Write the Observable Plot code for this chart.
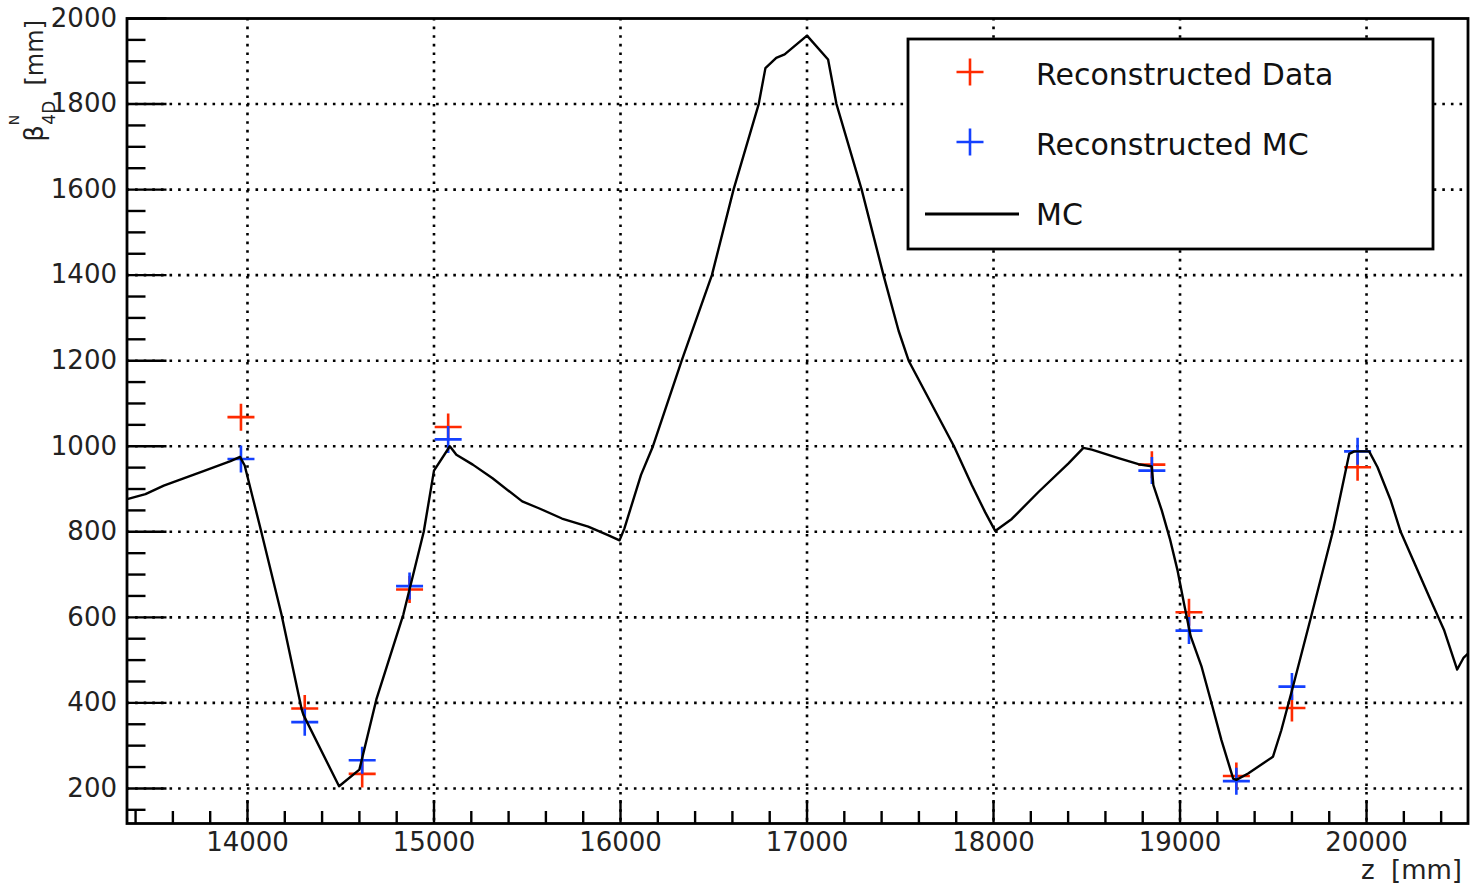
<!DOCTYPE html>
<html><head><meta charset="utf-8">
<script src="https://cdn.jsdelivr.net/npm/d3@7"></script>
<script src="https://cdn.jsdelivr.net/npm/@observablehq/plot@0.6"></script>
<style>html,body{margin:0;padding:0;background:#fff;} #chart{width:1475px;height:889px;}</style>
</head><body><div id="chart"></div>
<script>
// MC beta function (solid black line)
const mcZ = [13360, 13453, 13551, 13764, 13909, 13960, 13985, 14073, 14182, 14291, 14300, 14491, 14600, 14691, 14836, 14945, 15000, 15085, 15120, 15208, 15314, 15473, 15562, 15686, 15827, 15933, 15995, 16021, 16110, 16174, 16328, 16490, 16606, 16741, 16777, 16835, 16880, 17000, 17113, 17158, 17293, 17410, 17491, 17545, 17788, 17884, 17955, 18009, 18098, 18241, 18402, 18482, 18527, 18670, 18777, 18848, 18857, 18902, 18946, 18986, 19021, 19057, 19116, 19169, 19222, 19285, 19302, 19365, 19498, 19543, 19605, 19703, 19819, 19907, 19934, 20014, 20059, 20130, 20183, 20343, 20415, 20486, 20521, 20544];
const mcBeta = [877, 888, 908, 942, 965, 975, 955, 802, 607, 384, 372, 205, 244, 408, 607, 800, 943, 1000, 980, 957, 925, 871, 855, 831, 812, 792, 780, 808, 933, 1000, 1200, 1400, 1600, 1800, 1884, 1908, 1916, 1960, 1904, 1800, 1600, 1400, 1270, 1200, 1000, 909, 846, 802, 830, 893, 960, 996, 992, 972, 958, 953, 909, 850, 783, 711, 633, 556, 484, 399, 313, 223, 220, 235, 274, 336, 437, 602, 800, 982, 988, 988, 951, 873, 800, 641, 571, 478, 506, 515];

// Reconstructed points (shared z positions)
const recoZ = [13965, 14307, 14615, 14869, 15076, 18849, 19048, 19302, 19600, 19952];
const dataBeta = [1068, 387, 234, 665, 1045, 957, 612, 229, 388, 951];
const recoMcBeta = [970, 355, 266, 673, 1016, 943, 569, 217, 438, 988];

// Axis ticks
const xTicks = [14000, 15000, 16000, 17000, 18000, 19000, 20000];
const yTicks = [200, 400, 600, 800, 1000, 1200, 1400, 1600, 1800, 2000];
const xMinor = d3.range(13400, 20600, 200).filter(v => v % 1000 !== 0);
const yMinor = d3.range(150, 2000, 50).filter(v => v % 200 !== 0);
const yGrid = [200, 400, 600, 800, 1000, 1200, 1400, 1600, 1800];

const legendLabels = ["Reconstructed Data", "Reconstructed MC", "MC"];
const xLabel = "z\u00a0\u00a0[mm]";
const seriesColors = {data: "#ff2a00", mc: "#1440ff", line: "#000000"};

const W = 1475, H = 889;
const mL = 126.5, mR = 7.5, mT = 18, mB = 66;
const plotW = W - mL - mR, plotH = H - mT - mB;

const mc = mcZ.map((z, i) => ({z, b: mcBeta[i]}));
const dataPts = recoZ.map((z, i) => ({z, b: dataBeta[i]}));
const mcPts = recoZ.map((z, i) => ({z, b: recoMcBeta[i]}));

const plusSymbol = {
  draw(ctx, size) {
    const r = Math.sqrt(size / Math.PI);
    ctx.moveTo(-r, 0); ctx.lineTo(r, 0);
    ctx.moveTo(0, -r); ctx.lineTo(0, r);
  }
};

const dotStyle = {strokeDasharray: "2.6,6", strokeWidth: 2.6, stroke: "#000"};

const chart = Plot.plot({
  width: W, height: H,
  marginLeft: mL, marginRight: mR, marginTop: mT, marginBottom: mB,
  style: {fontFamily: "DejaVu Sans", background: "#fff", color: "#222"},
  x: {type: "linear", domain: [13354, 20544]},
  y: {type: "linear", domain: [118, 2000]},
  marks: [
    Plot.ruleX(xTicks, {x: d => d, ...dotStyle}),
    Plot.ruleY(yGrid, {y: d => d, ...dotStyle}),
    Plot.tickY(yTicks, {y: d => d, insetRight: plotW - 40, stroke: "#000", strokeWidth: 2.4}),
    Plot.tickY(yMinor, {y: d => d, insetRight: plotW - 19, stroke: "#000", strokeWidth: 2.4}),
    Plot.tickX(xTicks, {x: d => d, insetTop: plotH - 23, stroke: "#000", strokeWidth: 2.4}),
    Plot.tickX(xMinor, {x: d => d, insetTop: plotH - 12, stroke: "#000", strokeWidth: 2.4}),
    Plot.axisX(xTicks, {tickSize: 0, tickPadding: 9, fontSize: 26, tickFormat: d => String(d), label: null, fill: "#222"}),
    Plot.axisY(yTicks, {tickSize: 0, tickPadding: 10, fontSize: 26, tickFormat: d => String(d), label: null, fill: "#222"}),
    Plot.dot(dataPts, {x: "z", y: "b", symbol: plusSymbol, r: 13.5, stroke: seriesColors.data, strokeWidth: 2.6, fill: "none"}),
    Plot.dot(mcPts, {x: "z", y: "b", symbol: plusSymbol, r: 13.5, stroke: seriesColors.mc, strokeWidth: 2.6, fill: "none"}),
    Plot.line(mc, {x: "z", y: "b", stroke: seriesColors.line, strokeWidth: 2.4, clip: true}),
    Plot.frame({stroke: "#000", strokeWidth: 2.8}),
    Plot.text([xLabel], {frameAnchor: "bottom-right", dy: 55, dx: -6, textAnchor: "end", fontSize: 26, fill: "#222"})
  ]
});

document.getElementById("chart").appendChild(chart);
const svg = d3.select(chart);

// Y-axis title: beta^N_4D [mm], rotated and right-aligned at axis top
const yl = svg.append("text")
  .attr("transform", "translate(43,20) rotate(-90)")
  .attr("text-anchor", "end")
  .attr("font-family", "DejaVu Sans")
  .attr("font-size", 24)
  .attr("fill", "#222");
yl.append("tspan").attr("font-size", 26).text("β");
yl.append("tspan").attr("font-size", 14).attr("dy", -24).text("N");
yl.append("tspan").attr("font-size", 17).attr("dx", -10).attr("dy", 36).text("4D");
yl.append("tspan").attr("dy", -12).text("\u00a0\u00a0[mm]");

// Legend box
const lg = svg.append("g").attr("font-family", "DejaVu Sans").attr("text-anchor", "start");
lg.append("rect").attr("x", 908).attr("y", 39).attr("width", 525).attr("height", 210)
  .attr("fill", "#fff").attr("stroke", "#000").attr("stroke-width", 2.8);
const rows = [74, 144, 214];
const cols = [seriesColors.data, seriesColors.mc];
cols.forEach((c, i) => {
  lg.append("path").attr("d", `M${970-13.5},${rows[i]-2}h27M970,${rows[i]-15.5}v27`)
    .attr("stroke", c).attr("stroke-width", 2.6).attr("fill", "none");
});
lg.append("line").attr("x1", 925).attr("x2", 1019).attr("y1", rows[2]).attr("y2", rows[2])
  .attr("stroke", "#000").attr("stroke-width", 2.8);
legendLabels.forEach((t, i) => {
  lg.append("text").attr("x", 1036).attr("y", rows[i]).attr("dy", "0.36em")
    .attr("text-anchor", "start")
    .attr("font-size", 30).attr("fill", "#111").text(t);
});
</script>
</body></html>
